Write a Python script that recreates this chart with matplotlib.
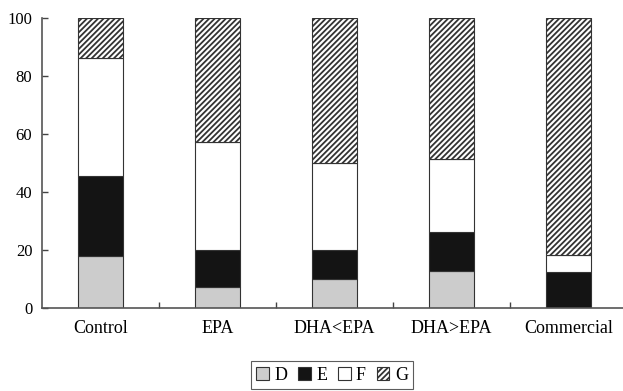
import numpy as np
import matplotlib
matplotlib.use("Agg")
import matplotlib.pyplot as plt

plt.rcParams['font.family'] = ['Liberation Serif', 'DejaVu Serif']
plt.rcParams['hatch.linewidth'] = 1.3

groups = ['Control', 'EPA', 'DHA<EPA', 'DHA>EPA', 'Commercial']
D = [18.0, 7.3, 10.0, 12.9, 0.0]
E = [27.5, 12.8, 10.0, 13.2, 12.4]
F = [40.6, 37.1, 29.9, 25.4, 5.8]
G = [13.9, 42.8, 50.1, 48.5, 81.8]

fig = plt.figure(figsize=(6.23, 3.91), dpi=100)
ax = fig.add_axes([0.0674, 0.2123, 0.939, 0.7417])

x = np.arange(len(groups))
w = 0.39
ec = '#333333'
bottom = np.zeros(len(groups))
styles = [
    ('D', D, '#cccccc', None),
    ('E', E, '#141414', None),
    ('F', F, 'white', None),
    ('G', G, 'white', '//////'),
]
for name, vals, fc, hatch in styles:
    ax.bar(x, vals, w, bottom=bottom, color=fc, edgecolor=ec, linewidth=0.8,
           hatch=hatch, label=name)
    bottom += np.array(vals)

ax.set_xlim(-0.5, 4.5)
ax.set_ylim(0, 100)
ax.set_yticks([0, 20, 40, 60, 80, 100])
ax.set_xticks(x)
ax.set_xticklabels(groups)
ax.set_xticks(np.arange(0.5, 4.5, 1), minor=True)
ax.tick_params(axis='x', which='major', length=0, labelsize=13, pad=9)
ax.tick_params(axis='x', which='minor', direction='in', length=4, width=1, color='#444444')
ax.tick_params(axis='y', direction='in', length=4, labelsize=12, width=1, color='#444444', pad=7)
for s in ['top', 'right']:
    ax.spines[s].set_visible(False)
for s in ['left', 'bottom']:
    ax.spines[s].set_color('#555555')
    ax.spines[s].set_linewidth(1.2)

leg = fig.legend(loc='center', bbox_to_anchor=(0.533, 0.04), ncol=4, fontsize=13,
                 handlelength=0.7, handleheight=0.7, handletextpad=0.3,
                 columnspacing=0.6, frameon=True, fancybox=False,
                 borderpad=0.3, edgecolor='#333333')
leg.get_frame().set_linewidth(0.8)

fig.savefig('out.png', dpi=100)
